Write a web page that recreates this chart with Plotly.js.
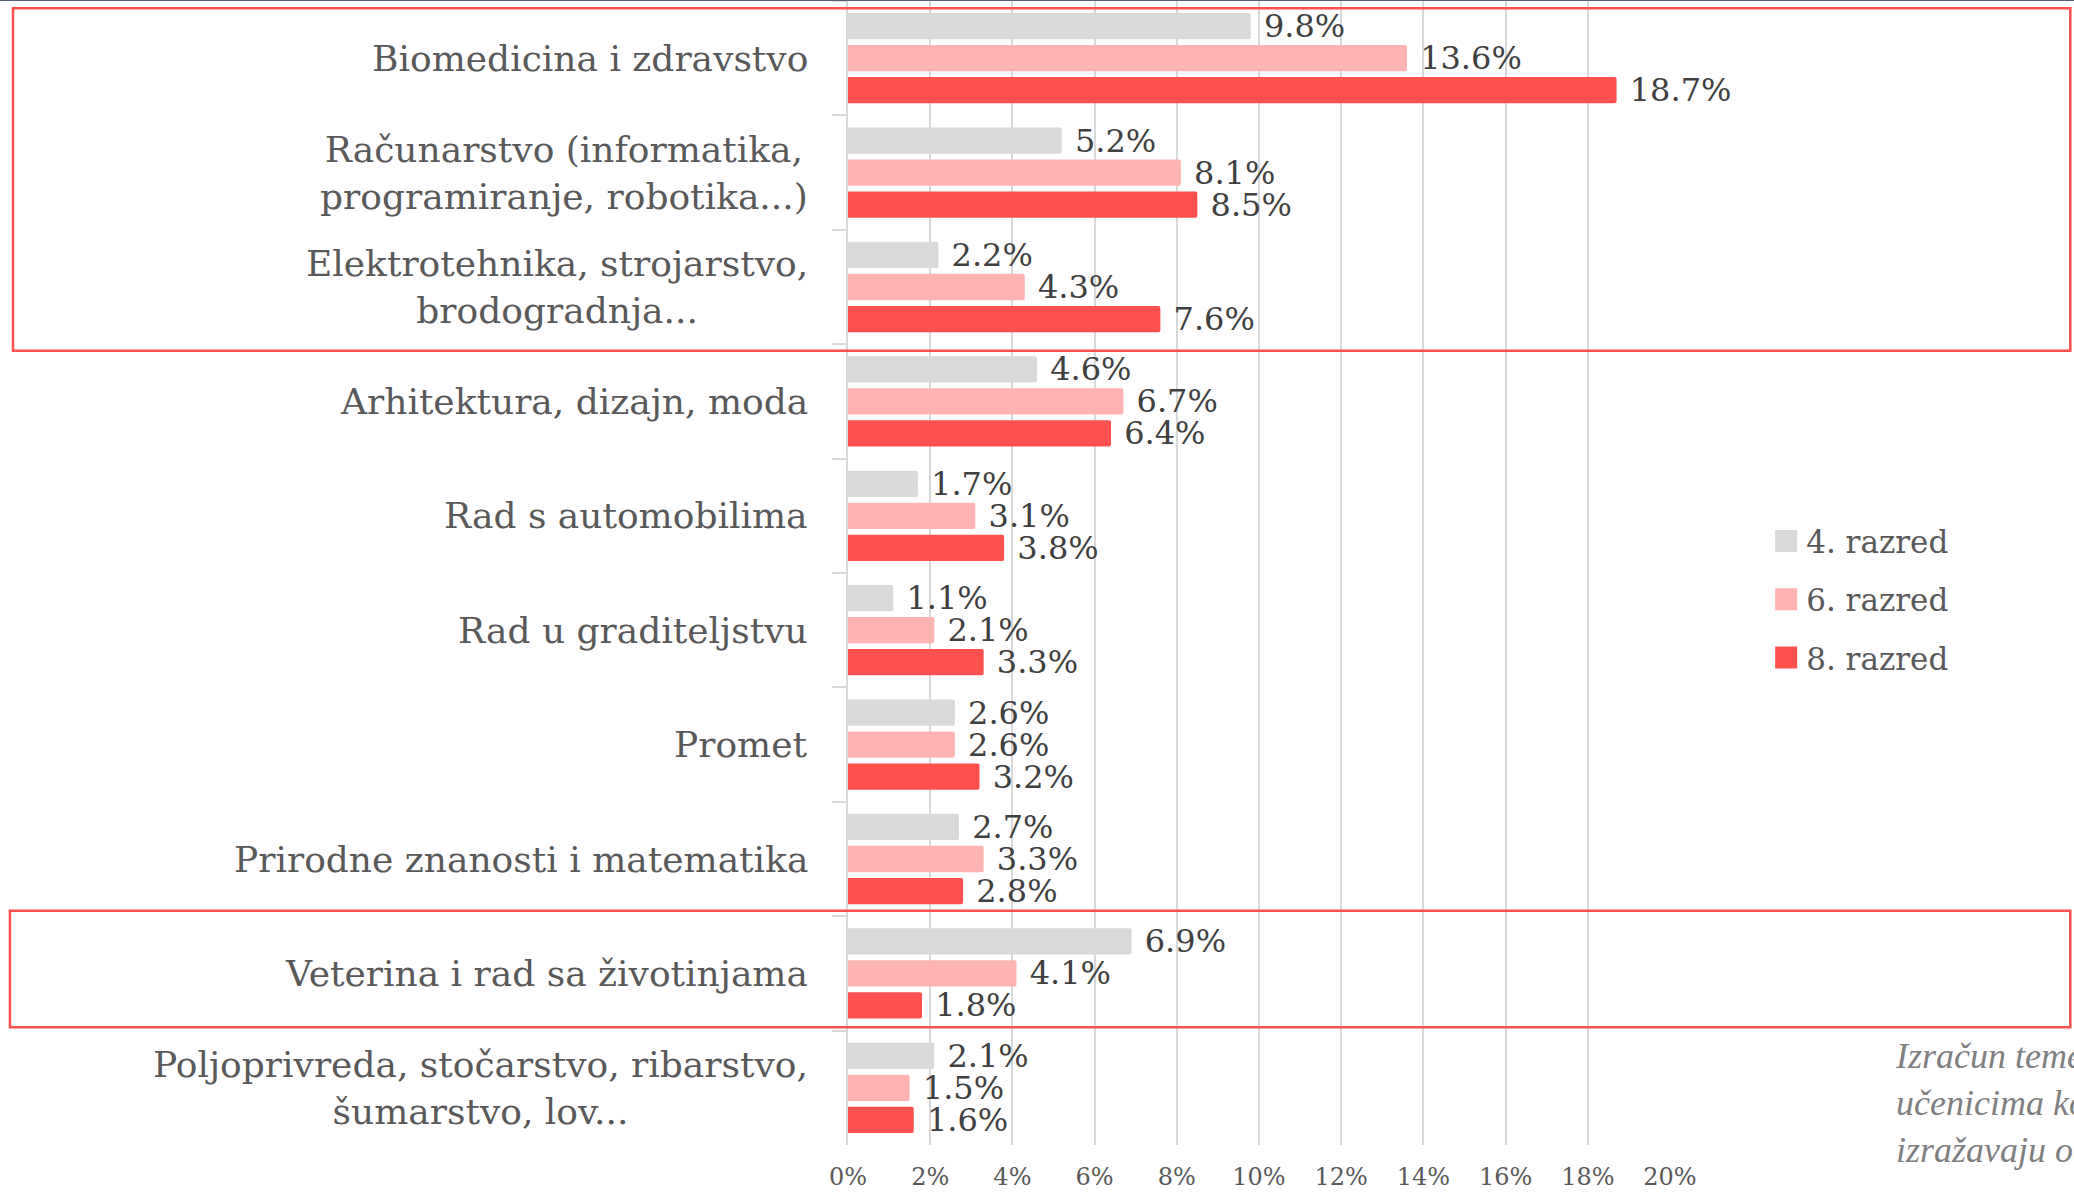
<!DOCTYPE html>
<html>
<head>
<meta charset="utf-8">
<script src="https://cdn.plot.ly/plotly-3.0.1.min.js"></script>
<style>
html, body { margin: 0; padding: 0; background: #ffffff; overflow: hidden; }
#chart { width: 2074px; height: 1192px; }
</style>
</head>
<body>
<div id="chart"></div>
<script>
// ---- data ----
const categories = [
  'Biomedicina i zdravstvo',
  'Računarstvo (informatika,<br>programiranje, robotika...)',
  'Elektrotehnika, strojarstvo,<br>brodogradnja...',
  'Arhitektura, dizajn, moda',
  'Rad s automobilima',
  'Rad u graditeljstvu',
  'Promet',
  'Prirodne znanosti i matematika',
  'Veterina i rad sa životinjama',
  'Poljoprivreda, stočarstvo, ribarstvo,<br>šumarstvo, lov...'
];
const seriesNames = ['4. razred', '6. razred', '8. razred'];
const grade4 = [9.8, 5.2, 2.2, 4.6, 1.7, 1.1, 2.6, 2.7, 6.9, 2.1];
const grade6 = [13.6, 8.1, 4.3, 6.7, 3.1, 2.1, 2.6, 3.3, 4.1, 1.5];
const grade8 = [18.7, 8.5, 7.6, 6.4, 3.8, 3.3, 3.2, 2.8, 1.8, 1.6];
const xTickVals = [0, 2, 4, 6, 8, 10, 12, 14, 16, 18, 20];
const noteLines = ['Izračun temeljen na', 'učenicima koji', 'izražavaju određeni interes'];
const highlightedGroups = [[0, 2], [8, 8]];

// ---- styling ----
const colors = ['#D9D9D9', '#FFB3B3', '#FF5050'];
const serif = 'DejaVu Serif, Liberation Serif, serif';
const noteFont = 'Liberation Serif, DejaVu Serif, serif';
const values = [grade4, grade6, grade8];

const traces = values.map((vals, i) => ({
  type: 'bar',
  orientation: 'h',
  name: seriesNames[i],
  legendgroup: 'g' + i,
  x: vals,
  y: categories,
  marker: { color: colors[i], cornerradius: 2 },
  text: vals.map(v => v.toFixed(1) + '%'),
  texttemplate: '\u00a0%{text}',
  textposition: 'outside',
  constraintext: 'none',
  cliponaxis: false,
  outsidetextfont: { family: serif, size: 32, color: '#404040' },
  hoverinfo: 'x+y+name'
}));

const annotations = categories.map(c => ({
  xref: 'paper', yref: 'y',
  x: 0, y: c,
  xanchor: 'right', yanchor: 'middle',
  xshift: -38,
  align: 'center',
  text: c,
  showarrow: false,
  font: { family: serif, size: 36, color: '#595959' }
}));

annotations.push({
  xref: 'paper', yref: 'paper',
  x: 1.2715, y: 0.0367,
  xanchor: 'left', yanchor: 'middle',
  align: 'left',
  text: noteLines.map(t => '<i>' + t + '</i>').join('<br>'),
  showarrow: false,
  font: { family: noteFont, size: 36, color: '#7F7F7F' }
});

const shapes = highlightedGroups.map(([a, b], k) => ({
  type: 'rect',
  xref: 'paper', yref: 'y',
  x0: k === 0 ? -1.0158 : -1.0195, x1: 1.487,
  y0: a - (k === 0 ? 0.436 : 0.548), y1: b + (k === 0 ? 0.557 : 0.471),
  line: { color: '#FF5050', width: 2.5 },
  fillcolor: 'rgba(0,0,0,0)',
  layer: 'above'
}));
shapes.push({
  type: 'line', xref: 'paper', yref: 'paper',
  x0: -1.05, x1: 1.5, y0: 1.0009, y1: 1.0009,
  line: { color: '#55616E', width: 2 }
});

const layout = {
  width: 2074,
  height: 1192,
  margin: { l: 848, r: 404, t: 1, b: 47, pad: 0 },
  paper_bgcolor: '#ffffff',
  plot_bgcolor: '#ffffff',
  barmode: 'group',
  bargap: 0.16,
  bargroupgap: 0.18,
  showlegend: true,
  legend: {
    x: 1.117, xanchor: 'left',
    y: 0.477, yanchor: 'middle',
    traceorder: 'grouped',
    tracegroupgap: 15,
    font: { family: serif, size: 31, color: '#595959' },
    bgcolor: 'rgba(0,0,0,0)',
    borderwidth: 0
  },
  xaxis: {
    range: [0, 20],
    tickvals: xTickVals,
    ticktext: xTickVals.map(v => v + '%'),
    showgrid: true,
    gridcolor: '#D9D9D9',
    gridwidth: 2,
    zeroline: false,
    showline: false,
    ticks: '',
    ticklabelstandoff: 15,
    tickfont: { family: serif, size: 24, color: '#595959' },
    fixedrange: true
  },
  yaxis: {
    type: 'category',
    autorange: 'reversed',
    showticklabels: false,
    showgrid: false,
    zeroline: false,
    showline: true,
    linecolor: '#D9D9D9',
    linewidth: 2,
    ticks: 'outside',
    tickson: 'boundaries',
    ticklen: 14,
    tickwidth: 2,
    tickcolor: '#D9D9D9',
    fixedrange: true
  },
  annotations: annotations,
  shapes: shapes
};

Plotly.newPlot('chart', traces, layout, { displayModeBar: false, staticPlot: true }).then(gd => {
  // enlarge the legend colour squares to match the reference's swatch size
  gd.querySelectorAll('.legend .legendpoints path').forEach(p => {
    p.setAttribute('d', 'M11,11H-11V-11H11Z');
  });
});
</script>
</body>
</html>
